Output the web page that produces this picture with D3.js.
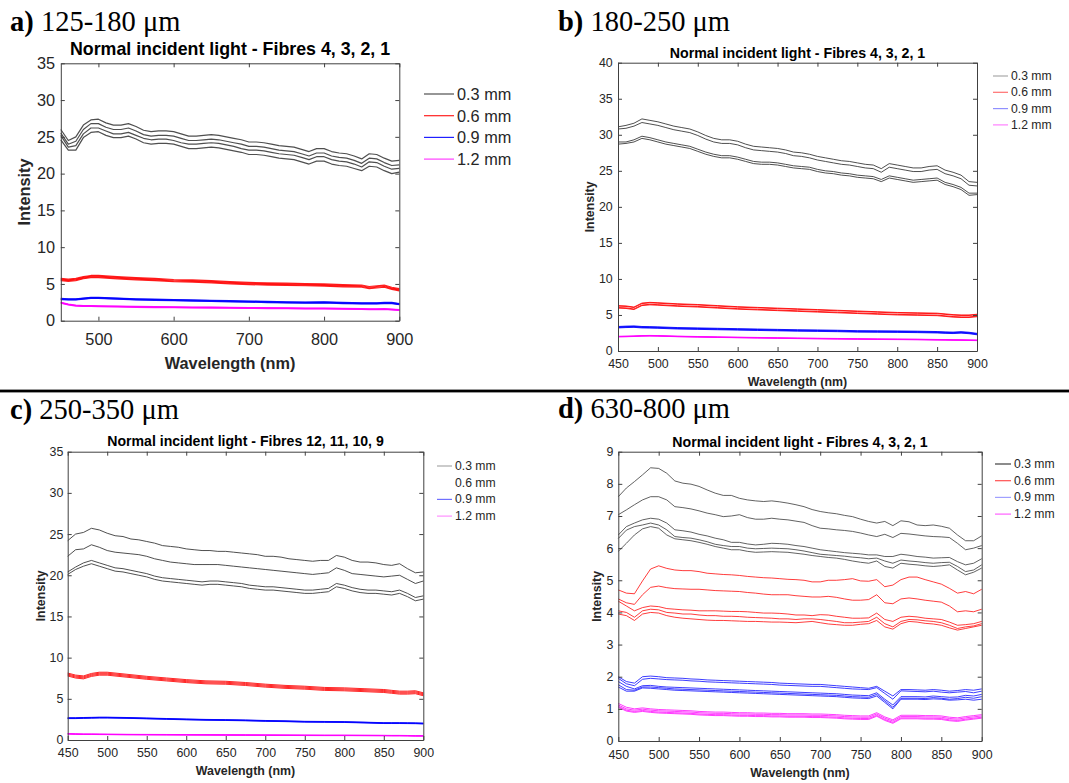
<!DOCTYPE html>
<html>
<head>
<meta charset="utf-8">
<script src="https://cdn.jsdelivr.net/npm/d3@7"></script>
<style>
  body { margin: 0; background: #fff; }
  svg { display: block; font-family: "Liberation Sans", Arial, sans-serif; }
</style>
</head>
<body>
<svg id="fig" width="1069" height="783"></svg>
<script>
// wavelength grids (nm)
const wlFine = [450,460,470,480,490,500,510,520,530,540,550,560,570,580,590,600,610,620,630,640,
  650,660,670,680,690,700,710,720,730,740,750,760,770,780,790,800,810,820,830,840,850,860,870,880,890,900];
const wlCoarse = [450,460,470,480,490,500,525,550,575,600,625,650,675,700,725,750,775,800,825,850,860,870,880,890,900];

const legendLabels = ["0.3 mm", "0.6 mm", "0.9 mm", "1.2 mm"];
const seriesColors = ["#303030", "#ff0000", "#0000ff", "#ff00ff"];

const xTicks50 = [450,500,550,600,650,700,750,800,850,900];
const xTicks100 = [500,600,700,800,900];
const yTicks35 = [0,5,10,15,20,25,30,35];
const yTicks40 = [0,5,10,15,20,25,30,35,40];
const yTicks9 = [0,1,2,3,4,5,6,7,8,9];

// ---- a) 125-180 um  (fine grid for 0.3 mm, coarse grid for others)
const a03 = [
  [26.0,24.5,25.0,26.6,27.3,27.4,26.9,26.6,26.6,26.8,26.4,25.9,25.7,25.8,25.8,25.7,25.4,25.1,25.1,25.2,
   25.3,25.2,25.0,24.8,24.6,24.3,24.3,24.2,24.0,23.8,23.7,23.6,23.3,23.0,23.4,23.4,23.0,22.8,22.7,22.4,22.0,22.7,22.6,22.1,21.7,21.8],
  [25.5,24.0,24.4,26.0,26.8,26.8,26.3,26.0,26.0,26.2,25.8,25.3,25.1,25.2,25.2,25.1,24.8,24.5,24.5,24.6,
   24.7,24.6,24.4,24.2,24.0,23.7,23.7,23.6,23.4,23.2,23.1,23.0,22.7,22.4,22.8,22.8,22.4,22.2,22.1,21.8,21.4,22.1,22.0,21.5,21.1,21.2],
  [25.2,23.6,23.8,25.4,26.2,26.2,25.8,25.4,25.4,25.6,25.2,24.8,24.6,24.7,24.7,24.5,24.2,24.0,24.0,24.1,
   24.2,24.1,23.9,23.7,23.4,23.2,23.2,23.1,22.9,22.7,22.6,22.5,22.2,21.9,22.3,22.3,21.9,21.7,21.6,21.3,20.9,21.6,21.5,21.0,20.6,20.7],
  [24.6,23.2,23.2,24.9,25.6,25.7,25.2,24.9,24.9,25.1,24.7,24.2,24.0,24.1,24.1,24.0,23.7,23.4,23.4,23.5,
   23.6,23.5,23.3,23.1,22.9,22.6,22.6,22.5,22.3,22.1,22.0,21.9,21.6,21.3,21.7,21.7,21.3,21.1,21.0,20.7,20.4,21.0,20.9,20.4,20.0,20.2]
];
const a06 = [
  [5.75,5.65,5.75,6.0,6.15,6.15,6.0,5.85,5.75,5.6,5.55,5.45,5.3,5.2,5.15,5.1,5.05,5.0,4.9,4.85,4.65,4.75,4.85,4.55,4.35],
  [5.65,5.55,5.65,5.9,6.05,6.05,5.9,5.75,5.65,5.5,5.45,5.35,5.2,5.1,5.05,5.0,4.95,4.9,4.8,4.75,4.55,4.65,4.75,4.45,4.25],
  [5.55,5.45,5.55,5.8,5.95,5.95,5.8,5.65,5.55,5.4,5.35,5.25,5.1,5.0,4.95,4.9,4.85,4.8,4.7,4.65,4.45,4.55,4.65,4.35,4.15],
  [5.45,5.35,5.45,5.7,5.85,5.85,5.7,5.55,5.45,5.3,5.25,5.15,5.0,4.9,4.85,4.8,4.75,4.7,4.6,4.55,4.35,4.45,4.55,4.25,4.05]
];
const a09 = [
  [3.03,2.98,2.98,3.08,3.18,3.18,3.08,2.98,2.93,2.88,2.83,2.78,2.73,2.68,2.63,2.58,2.53,2.58,2.48,2.43,2.43,2.43,2.48,2.48,2.33],
  [2.98,2.93,2.93,3.03,3.13,3.13,3.03,2.93,2.88,2.83,2.78,2.73,2.68,2.63,2.58,2.53,2.48,2.53,2.43,2.38,2.38,2.38,2.43,2.43,2.28],
  [2.92,2.87,2.87,2.97,3.07,3.07,2.97,2.87,2.82,2.77,2.72,2.67,2.62,2.57,2.52,2.47,2.42,2.47,2.37,2.32,2.32,2.32,2.37,2.37,2.22],
  [2.87,2.82,2.82,2.92,3.02,3.02,2.92,2.82,2.77,2.72,2.67,2.62,2.57,2.52,2.47,2.42,2.37,2.42,2.32,2.27,2.27,2.27,2.32,2.32,2.17]
];
const a12 = [
  [2.51,2.26,2.11,2.06,2.06,2.03,1.98,1.94,1.91,1.88,1.86,1.84,1.81,1.79,1.77,1.75,1.73,1.72,1.68,1.64,1.62,1.62,1.64,1.58,1.51],
  [2.47,2.22,2.07,2.02,2.02,1.99,1.94,1.9,1.87,1.84,1.82,1.8,1.77,1.75,1.73,1.71,1.69,1.68,1.64,1.6,1.58,1.58,1.6,1.54,1.47],
  [2.43,2.18,2.03,1.98,1.98,1.95,1.9,1.86,1.83,1.8,1.78,1.76,1.73,1.71,1.69,1.67,1.65,1.64,1.6,1.56,1.54,1.54,1.56,1.5,1.43],
  [2.39,2.14,1.99,1.94,1.94,1.91,1.86,1.82,1.79,1.76,1.74,1.72,1.69,1.67,1.65,1.63,1.61,1.6,1.56,1.52,1.5,1.5,1.52,1.46,1.39]
];

// ---- b) 180-250 um
const b03 = [
  [31.1,31.3,31.6,32.2,32.0,31.8,31.5,31.2,31.0,30.8,30.4,29.9,29.5,29.3,29.3,29.1,28.7,28.4,28.3,28.2,
   28.1,27.9,27.6,27.5,27.3,27.0,26.8,26.6,26.4,26.3,26.1,25.9,25.8,25.3,26.0,25.8,25.6,25.4,25.4,25.6,25.7,25.1,24.8,24.4,23.5,23.4],
  [30.8,30.9,31.2,31.7,31.5,31.3,31.0,30.7,30.5,30.3,29.9,29.4,29.0,28.8,28.8,28.6,28.2,27.9,27.8,27.7,
   27.6,27.4,27.1,27.0,26.8,26.5,26.3,26.1,25.9,25.8,25.6,25.4,25.3,24.8,25.5,25.3,25.1,24.9,24.9,25.1,25.2,24.6,24.3,23.9,23.0,22.9],
  [29.0,29.0,29.3,29.8,29.6,29.3,29.0,28.8,28.6,28.4,28.0,27.6,27.3,27.1,27.1,26.9,26.6,26.3,26.2,26.2,
   26.1,25.9,25.7,25.6,25.5,25.2,25.0,24.9,24.7,24.6,24.4,24.3,24.2,23.8,24.3,24.1,23.9,23.7,23.8,23.9,24.0,23.4,23.1,22.7,21.9,21.9],
  [28.7,28.8,29.0,29.5,29.3,29.0,28.7,28.5,28.3,28.1,27.7,27.3,27.0,26.8,26.8,26.6,26.3,26.0,25.9,25.9,
   25.8,25.6,25.4,25.3,25.2,24.9,24.7,24.6,24.4,24.3,24.1,24.0,23.9,23.5,24.0,23.8,23.6,23.4,23.5,23.6,23.7,23.1,22.8,22.4,21.6,21.7]
];
const b06 = [
  [6.3,6.25,6.1,6.65,6.75,6.7,6.55,6.45,6.3,6.15,6.05,5.95,5.85,5.75,5.65,5.55,5.45,5.35,5.3,5.25,5.15,5.05,5.0,5.0,5.1],
  [6.23,6.18,6.03,6.58,6.68,6.63,6.48,6.38,6.23,6.08,5.98,5.88,5.78,5.68,5.58,5.48,5.38,5.28,5.23,5.18,5.08,4.98,4.93,4.93,5.03],
  [6.03,5.98,5.83,6.38,6.48,6.43,6.28,6.18,6.03,5.88,5.78,5.68,5.58,5.48,5.38,5.28,5.18,5.08,5.03,4.98,4.88,4.78,4.73,4.73,4.83],
  [5.95,5.9,5.75,6.3,6.4,6.35,6.2,6.1,5.95,5.8,5.7,5.6,5.5,5.4,5.3,5.2,5.1,5.0,4.95,4.9,4.8,4.7,4.65,4.65,4.75]
];
const b09 = [
  [3.4,3.45,3.48,3.4,3.38,3.35,3.25,3.2,3.15,3.1,3.05,3.0,2.95,2.92,2.88,2.82,2.8,2.78,2.75,2.7,2.65,2.62,2.68,2.6,2.45],
  [3.33,3.38,3.41,3.33,3.31,3.28,3.18,3.13,3.08,3.03,2.98,2.93,2.88,2.85,2.81,2.75,2.73,2.71,2.68,2.63,2.58,2.55,2.61,2.53,2.38],
  [3.27,3.32,3.35,3.27,3.25,3.22,3.12,3.07,3.02,2.97,2.92,2.87,2.82,2.79,2.75,2.69,2.67,2.65,2.62,2.57,2.52,2.49,2.55,2.47,2.32],
  [3.2,3.25,3.28,3.2,3.18,3.15,3.05,3.0,2.95,2.9,2.85,2.8,2.75,2.72,2.68,2.62,2.6,2.58,2.55,2.5,2.45,2.42,2.48,2.4,2.25]
];
const b12 = [
  [2.04,2.06,2.09,2.14,2.16,2.14,2.06,2.01,1.96,1.92,1.88,1.84,1.8,1.77,1.74,1.71,1.68,1.66,1.64,1.6,1.59,1.57,1.56,1.54,1.52],
  [2.01,2.03,2.06,2.11,2.13,2.11,2.03,1.98,1.93,1.89,1.85,1.81,1.77,1.74,1.71,1.68,1.65,1.63,1.61,1.57,1.56,1.54,1.53,1.51,1.49],
  [1.98,2.0,2.03,2.08,2.1,2.08,2.0,1.95,1.9,1.86,1.82,1.78,1.74,1.71,1.68,1.65,1.62,1.6,1.58,1.54,1.53,1.51,1.5,1.48,1.46],
  [1.96,1.98,2.01,2.06,2.08,2.06,1.98,1.93,1.88,1.84,1.8,1.76,1.72,1.69,1.66,1.63,1.6,1.58,1.56,1.52,1.51,1.49,1.48,1.46,1.44]
];

// ---- c) 250-350 um
const c03 = [
  [24.2,25.0,25.2,25.7,25.5,25.1,24.8,24.7,24.4,24.3,24.1,23.9,23.6,23.5,23.4,23.2,23.1,23.0,23.0,22.9,
   22.9,22.8,22.7,22.6,22.5,22.3,22.3,22.2,22.0,21.9,21.8,21.7,21.8,21.8,22.4,22.2,21.8,21.6,21.6,21.5,21.3,21.2,21.4,20.8,20.3,20.4],
  [22.3,23.1,23.2,23.7,23.4,23.0,22.8,22.7,22.6,22.5,22.3,22.0,21.8,21.6,21.5,21.4,21.3,21.3,21.3,21.3,
   21.2,21.1,21.0,20.9,20.8,20.7,20.6,20.5,20.4,20.3,20.2,20.1,20.2,20.3,20.9,20.6,20.2,20.1,20.0,19.9,19.8,19.9,20.0,19.5,19.0,19.3],
  [20.4,21.0,21.5,21.8,21.5,21.2,20.9,20.8,20.6,20.4,20.2,19.9,19.7,19.6,19.5,19.4,19.3,19.2,19.3,19.3,
   19.2,19.1,19.0,18.8,18.7,18.6,18.6,18.5,18.4,18.3,18.2,18.2,18.3,18.4,19.0,18.8,18.5,18.3,18.2,18.2,18.1,18.0,18.2,17.8,17.3,17.5],
  [20.1,20.7,21.1,21.4,21.1,20.8,20.5,20.4,20.2,20.0,19.8,19.5,19.3,19.2,19.1,19.0,18.9,18.8,18.9,18.9,
   18.8,18.7,18.6,18.4,18.3,18.2,18.2,18.1,18.0,17.9,17.8,17.8,17.9,18.0,18.6,18.4,18.1,17.9,17.8,17.8,17.7,17.6,17.8,17.4,16.9,17.1]
];
const c06 = [
  [8.13,7.88,7.78,8.08,8.23,8.23,7.98,7.73,7.53,7.33,7.18,7.13,6.98,6.78,6.63,6.53,6.38,6.33,6.23,6.13,6.03,5.93,5.93,5.98,5.73],
  [8.01,7.76,7.66,7.96,8.11,8.11,7.86,7.61,7.41,7.21,7.06,7.01,6.86,6.66,6.51,6.41,6.26,6.21,6.11,6.01,5.91,5.81,5.81,5.86,5.61],
  [7.89,7.64,7.54,7.84,7.99,7.99,7.74,7.49,7.29,7.09,6.94,6.89,6.74,6.54,6.39,6.29,6.14,6.09,5.99,5.89,5.79,5.69,5.69,5.74,5.49],
  [7.77,7.52,7.42,7.72,7.87,7.87,7.62,7.37,7.17,6.97,6.82,6.77,6.62,6.42,6.27,6.17,6.02,5.97,5.87,5.77,5.67,5.57,5.57,5.62,5.37]
];
const c09 = [
  [2.7,2.7,2.73,2.75,2.77,2.77,2.73,2.67,2.61,2.55,2.5,2.47,2.43,2.37,2.33,2.27,2.25,2.23,2.17,2.1,2.1,2.1,2.09,2.08,2.05],
  [2.67,2.67,2.7,2.72,2.74,2.74,2.7,2.64,2.58,2.52,2.47,2.44,2.4,2.34,2.3,2.24,2.22,2.2,2.14,2.07,2.07,2.07,2.06,2.05,2.02],
  [2.63,2.63,2.66,2.68,2.7,2.7,2.66,2.6,2.54,2.48,2.43,2.4,2.36,2.3,2.26,2.2,2.18,2.16,2.1,2.03,2.03,2.03,2.02,2.01,1.98],
  [2.6,2.6,2.63,2.65,2.67,2.67,2.63,2.57,2.51,2.45,2.4,2.37,2.33,2.27,2.23,2.17,2.15,2.13,2.07,2.0,2.0,2.0,1.99,1.98,1.95]
];
const c12 = [
  [0.78,0.75,0.73,0.73,0.72,0.71,0.69,0.68,0.67,0.66,0.65,0.64,0.63,0.62,0.61,0.6,0.59,0.59,0.58,0.57,0.56,0.56,0.55,0.53,0.53],
  [0.76,0.73,0.71,0.71,0.7,0.69,0.67,0.66,0.65,0.64,0.63,0.62,0.61,0.6,0.59,0.58,0.57,0.57,0.56,0.55,0.54,0.54,0.53,0.51,0.51],
  [0.74,0.71,0.69,0.69,0.68,0.67,0.65,0.64,0.63,0.62,0.61,0.6,0.59,0.58,0.57,0.56,0.55,0.55,0.54,0.53,0.52,0.52,0.51,0.49,0.49],
  [0.72,0.69,0.67,0.67,0.66,0.65,0.63,0.62,0.61,0.6,0.59,0.58,0.57,0.56,0.55,0.54,0.53,0.53,0.52,0.51,0.5,0.5,0.49,0.47,0.47]
];

// ---- d) 630-800 um  (all on the fine grid)
const d03 = [
  [7.6,7.87,8.07,8.28,8.5,8.48,8.33,8.09,8.02,7.99,7.92,7.81,7.71,7.64,7.64,7.55,7.5,7.47,7.45,7.47,
   7.44,7.4,7.35,7.29,7.2,7.14,7.1,7.07,7.02,6.98,6.9,6.83,6.78,6.83,6.7,6.85,6.82,6.72,6.7,6.72,6.68,6.62,6.41,6.23,6.23,6.38],
  [7.04,7.19,7.35,7.5,7.6,7.6,7.5,7.29,7.26,7.22,7.16,7.09,7.04,6.98,7.0,7.04,6.95,6.9,6.9,6.93,
   6.9,6.88,6.84,6.8,6.7,6.62,6.6,6.57,6.55,6.52,6.47,6.41,6.36,6.43,6.33,6.46,6.44,6.41,6.38,6.36,6.35,6.33,6.15,5.95,6.0,6.08],
  [6.41,6.67,6.78,6.88,6.93,6.9,6.78,6.57,6.54,6.5,6.43,6.38,6.31,6.26,6.18,6.18,6.13,6.1,6.12,6.15,
   6.14,6.12,6.08,6.05,6.0,5.95,5.92,5.89,5.86,5.84,5.82,5.79,5.79,5.74,5.74,5.81,5.78,5.74,5.72,5.69,5.7,5.71,5.58,5.48,5.53,5.67],
  [6.3,6.56,6.67,6.72,6.78,6.72,6.57,6.36,6.33,6.31,6.26,6.2,6.12,6.08,6.05,6.05,6.0,5.98,5.99,6.0,
   5.99,5.98,5.95,5.91,5.86,5.81,5.79,5.77,5.75,5.72,5.7,5.67,5.69,5.6,5.53,5.63,5.6,5.58,5.55,5.53,5.55,5.56,5.43,5.27,5.32,5.48],
  [5.9,6.15,6.41,6.6,6.67,6.62,6.41,6.29,6.26,6.23,6.18,6.12,6.05,6.0,5.95,5.95,5.9,5.87,5.88,5.89,
   5.88,5.87,5.84,5.81,5.77,5.74,5.71,5.69,5.65,5.6,5.56,5.53,5.6,5.43,5.38,5.53,5.5,5.48,5.45,5.43,5.45,5.48,5.32,5.17,5.25,5.38]
];
const d06 = [
  [4.7,4.6,4.58,4.98,5.35,5.45,5.37,5.32,5.3,5.3,5.27,5.22,5.2,5.18,5.17,5.15,5.12,5.1,5.08,5.07,
   5.05,5.03,5.02,5.0,4.95,4.95,5.0,5.0,5.02,5.05,4.98,4.97,5.02,4.8,4.85,5.02,5.1,5.1,5.02,4.95,4.88,4.75,4.6,4.65,4.58,4.72],
  [4.42,4.3,4.25,4.55,4.78,4.82,4.77,4.74,4.73,4.72,4.72,4.7,4.68,4.67,4.66,4.65,4.62,4.6,4.57,4.55,
   4.55,4.55,4.52,4.5,4.48,4.48,4.5,4.47,4.42,4.38,4.38,4.4,4.55,4.3,4.27,4.42,4.45,4.42,4.38,4.35,4.32,4.2,4.02,4.05,4.02,4.1],
  [4.35,4.2,4.05,4.15,4.2,4.18,4.12,4.1,4.08,4.07,4.05,4.05,4.05,4.04,4.03,4.03,4.02,4.0,3.98,3.98,
   3.97,3.95,3.92,3.92,3.9,3.93,3.92,3.88,3.85,3.82,3.82,3.83,3.98,3.78,3.72,3.85,3.88,3.86,3.82,3.8,3.78,3.7,3.6,3.62,3.65,3.72],
  [4.05,4.0,3.85,4.05,4.1,4.08,4.0,3.98,3.95,3.95,3.92,3.9,3.9,3.88,3.88,3.87,3.85,3.84,3.83,3.82,
   3.8,3.8,3.78,3.8,3.8,3.78,3.75,3.72,3.68,3.68,3.7,3.72,3.85,3.65,3.55,3.72,3.78,3.77,3.74,3.72,3.68,3.6,3.5,3.55,3.58,3.65],
  [3.95,3.9,3.75,3.95,4.0,3.98,3.9,3.85,3.82,3.8,3.78,3.76,3.75,3.75,3.74,3.73,3.72,3.72,3.71,3.7,
   3.7,3.69,3.68,3.7,3.72,3.68,3.64,3.62,3.6,3.6,3.63,3.65,3.75,3.55,3.48,3.65,3.72,3.7,3.66,3.64,3.6,3.52,3.45,3.5,3.55,3.6]
];
const d09 = [
  [2.0,1.85,1.8,2.0,2.02,2.0,1.97,1.96,1.95,1.93,1.92,1.9,1.89,1.88,1.87,1.86,1.85,1.84,1.83,1.82,
   1.8,1.79,1.78,1.77,1.76,1.76,1.74,1.72,1.7,1.68,1.66,1.64,1.7,1.55,1.4,1.6,1.6,1.59,1.58,1.6,1.58,1.55,1.57,1.6,1.58,1.62],
  [1.95,1.78,1.72,1.92,1.95,1.93,1.91,1.9,1.89,1.87,1.86,1.84,1.83,1.82,1.81,1.8,1.79,1.78,1.77,1.76,
   1.74,1.73,1.72,1.71,1.7,1.7,1.68,1.66,1.64,1.62,1.61,1.6,1.66,1.48,1.3,1.56,1.55,1.54,1.53,1.55,1.52,1.5,1.52,1.54,1.5,1.55],
  [1.85,1.7,1.62,1.72,1.73,1.7,1.68,1.67,1.66,1.65,1.64,1.63,1.62,1.61,1.6,1.59,1.58,1.57,1.56,1.55,
   1.54,1.53,1.52,1.51,1.5,1.49,1.48,1.47,1.45,1.43,1.42,1.41,1.5,1.3,1.12,1.38,1.38,1.38,1.37,1.4,1.38,1.36,1.37,1.42,1.4,1.45],
  [1.75,1.6,1.58,1.68,1.68,1.66,1.64,1.62,1.61,1.6,1.59,1.58,1.57,1.56,1.55,1.54,1.53,1.52,1.51,1.5,
   1.49,1.48,1.47,1.46,1.45,1.44,1.43,1.42,1.4,1.38,1.37,1.36,1.45,1.25,1.05,1.33,1.33,1.33,1.32,1.35,1.33,1.3,1.32,1.36,1.33,1.38],
  [1.68,1.55,1.55,1.65,1.64,1.62,1.6,1.58,1.57,1.56,1.55,1.54,1.53,1.52,1.51,1.5,1.49,1.48,1.47,1.46,
   1.45,1.44,1.43,1.42,1.41,1.4,1.39,1.38,1.36,1.34,1.33,1.32,1.4,1.2,1.0,1.3,1.3,1.3,1.29,1.31,1.3,1.27,1.28,1.3,1.27,1.3]
];
const d12 = [
  [1.17,1.05,1.0,1.03,1.0,0.98,0.97,0.96,0.95,0.94,0.92,0.91,0.9,0.9,0.89,0.88,0.88,0.87,0.87,0.86,
   0.86,0.85,0.85,0.85,0.84,0.84,0.83,0.82,0.8,0.79,0.78,0.78,0.88,0.75,0.66,0.8,0.8,0.8,0.79,0.79,0.78,0.74,0.72,0.76,0.79,0.82],
  [1.12,1.0,0.96,0.99,0.96,0.94,0.93,0.92,0.91,0.9,0.88,0.87,0.86,0.86,0.85,0.84,0.84,0.83,0.83,0.82,
   0.82,0.81,0.81,0.81,0.8,0.8,0.79,0.78,0.76,0.75,0.74,0.74,0.84,0.71,0.62,0.76,0.76,0.76,0.75,0.75,0.74,0.7,0.68,0.72,0.75,0.78],
  [1.08,0.96,0.92,0.95,0.92,0.9,0.89,0.88,0.87,0.86,0.84,0.83,0.82,0.82,0.81,0.8,0.8,0.79,0.79,0.78,
   0.78,0.77,0.77,0.77,0.76,0.76,0.75,0.74,0.72,0.71,0.7,0.7,0.8,0.67,0.58,0.72,0.72,0.72,0.71,0.71,0.7,0.66,0.64,0.68,0.71,0.74],
  [1.05,0.93,0.89,0.92,0.89,0.87,0.86,0.85,0.84,0.83,0.81,0.8,0.79,0.79,0.78,0.77,0.77,0.76,0.76,0.75,
   0.75,0.74,0.74,0.74,0.73,0.73,0.72,0.71,0.69,0.68,0.67,0.67,0.77,0.64,0.55,0.69,0.69,0.69,0.68,0.68,0.67,0.63,0.61,0.65,0.68,0.71]
];

// ---- panel layout
const panels = [
  { tag: "a)", size: " 125-180 \u03bcm", tagX: 10, tagY: 31,
    title: "Normal incident light - Fibres 4, 3, 2, 1", titleY: 49, titleFont: 17.8,
    box: { x0: 60.8, x1: 399.3, y0: 63.3, y1: 320.7 }, yMax: 35, yTicks: yTicks35, xTicks: xTicks100,
    font: 16.3, xPad: 12.4, yPad: 5.8, xLabelY: 362.7, yLabelX: 24, lw: 1.2,
    legend: { x: 424, len: 30, y: 94, dy: 21.7, font: 16.3, colors: ["#505050", "#ff2020", "#2020ff", "#ff40ff"] },
    groups: [ { wl: wlFine, lines: a03 }, { wl: wlCoarse, lines: a06 }, { wl: wlCoarse, lines: a09 }, { wl: wlCoarse, lines: a12 } ] },
  { tag: "b)", size: " 180-250 \u03bcm", tagX: 558, tagY: 31,
    title: "Normal incident light - Fibres 4, 3, 2, 1", titleY: 53.3, titleFont: 14.2,
    box: { x0: 618, x1: 977, y0: 62.7, y1: 351 }, yMax: 40, yTicks: yTicks40, xTicks: xTicks50,
    font: 12.4, xPad: 8, yPad: 5.3, xLabelY: 381.7, yLabelX: 590, lw: 1,
    legend: { x: 993, len: 15, y: 76, dy: 16.3, font: 12.2, colors: ["#a8a8a8", "#ff7070", "#9090ff", "#ff80ff"] },
    groups: [ { wl: wlFine, lines: b03 }, { wl: wlCoarse, lines: b06 }, { wl: wlCoarse, lines: b09 }, { wl: wlCoarse, lines: b12 } ] },
  { tag: "c)", size: " 250-350 \u03bcm", tagX: 10, tagY: 419,
    title: "Normal incident light - Fibres 12, 11, 10, 9", titleY: 441, titleFont: 14.1,
    box: { x0: 67.7, x1: 423.3, y0: 451.7, y1: 740 }, yMax: 35, yTicks: yTicks35, xTicks: xTicks50,
    font: 12.4, xPad: 8.3, yPad: 4.4, xLabelY: 771, yLabelX: 40.7, lw: 1,
    legend: { x: 437, len: 15, y: 466, dy: 16.7, font: 12.2, colors: ["#a8a8a8", "none", "#7070ff", "#ff90ff"] },
    groups: [ { wl: wlFine, lines: c03 }, { wl: wlCoarse, lines: c06 }, { wl: wlCoarse, lines: c09 }, { wl: wlCoarse, lines: c12 } ] },
  { tag: "d)", size: " 630-800 \u03bcm", tagX: 558, tagY: 418,
    title: "Normal incident light - Fibres 4, 3, 2, 1", titleY: 441.7, titleFont: 14.2,
    box: { x0: 618.3, x1: 981.7, y0: 451.7, y1: 741 }, yMax: 9, yTicks: yTicks9, xTicks: xTicks50,
    font: 12.4, xPad: 9.4, yPad: 5, xLabelY: 773, yLabelX: 597.3, lw: 0.9,
    legend: { x: 995, len: 16, y: 464, dy: 16.7, font: 12.2, colors: ["#404040", "#ff5050", "#a0a0ff", "#ff60ff"] },
    groups: [ { wl: wlFine, lines: d03 }, { wl: wlFine, lines: d06 }, { wl: wlFine, lines: d09 }, { wl: wlFine, lines: d12 } ] }
];

const svg = d3.select("#fig");
svg.append("rect").attr("width", 1069).attr("height", 783).attr("fill", "#fff");
// separator between the two rows of panels
svg.append("rect").attr("x", 0).attr("y", 389.6).attr("width", 1069).attr("height", 2.8).attr("fill", "#000");

panels.forEach(drawPanel);

function drawPanel(p) {
  const g = svg.append("g");
  const b = p.box;
  const x = d3.scaleLinear().domain([450, 900]).range([b.x0, b.x1]);
  const y = d3.scaleLinear().domain([0, p.yMax]).range([b.y1, b.y0]);
  const line = d3.line().x(d => x(d[0])).y(d => y(d[1]));

  // spectra
  p.groups.forEach((grp, gi) => {
    grp.lines.forEach(vals => {
      g.append("path")
        .datum(vals.map((v, i) => [grp.wl[i], v]))
        .attr("d", line)
        .attr("fill", "none")
        .attr("stroke", seriesColors[gi])
        .attr("stroke-width", p.lw)
        .attr("stroke-opacity", 0.85)
        .attr("stroke-linejoin", "round");
    });
  });

  const styleAxis = sel => {
    sel.attr("font-size", null).attr("font-family", null);
    sel.select(".domain").attr("stroke", "#404040").attr("stroke-width", 1);
    sel.selectAll(".tick line").attr("stroke", "#404040");
    sel.selectAll(".tick text").attr("fill", "#262626").style("font-size", p.font + "px");
  };

  g.append("g").attr("transform", `translate(0,${b.y1})`)
    .call(d3.axisBottom(x).tickValues(p.xTicks).tickSize(-4).tickSizeOuter(0).tickPadding(p.xPad))
    .call(styleAxis);
  g.append("g").attr("transform", `translate(0,${b.y0})`)
    .call(d3.axisTop(x).tickValues(p.xTicks).tickSize(-4).tickSizeOuter(0).tickFormat(""))
    .call(styleAxis);
  g.append("g").attr("transform", `translate(${b.x0},0)`)
    .call(d3.axisLeft(y).tickValues(p.yTicks).tickSize(-4).tickSizeOuter(0).tickPadding(p.yPad))
    .call(styleAxis);
  g.append("g").attr("transform", `translate(${b.x1},0)`)
    .call(d3.axisRight(y).tickValues(p.yTicks).tickSize(-4).tickSizeOuter(0).tickFormat(""))
    .call(styleAxis);

  // title and axis labels
  const cx = (b.x0 + b.x1) / 2, cy = (b.y0 + b.y1) / 2;
  g.append("text").attr("x", cx).attr("y", p.titleY)
    .attr("text-anchor", "middle").attr("dominant-baseline", "central")
    .attr("font-weight", "bold").attr("font-size", p.titleFont).attr("fill", "#000")
    .text(p.title);
  g.append("text").attr("x", cx).attr("y", p.xLabelY)
    .attr("text-anchor", "middle").attr("dominant-baseline", "central")
    .attr("font-weight", "bold").attr("font-size", p.font).attr("fill", "#262626")
    .text("Wavelength (nm)");
  g.append("text").attr("transform", `translate(${p.yLabelX},${cy}) rotate(-90)`)
    .attr("text-anchor", "middle").attr("dominant-baseline", "central")
    .attr("font-weight", "bold").attr("font-size", p.font).attr("fill", "#262626")
    .text("Intensity");

  // legend
  const lg = p.legend;
  legendLabels.forEach((lab, i) => {
    const ly = lg.y + i * lg.dy;
    g.append("line").attr("x1", lg.x).attr("x2", lg.x + lg.len).attr("y1", ly).attr("y2", ly)
      .attr("stroke", lg.colors[i]).attr("stroke-width", 1.2);
    g.append("text").attr("x", lg.x + lg.len + 3).attr("y", ly)
      .attr("dominant-baseline", "central").attr("font-size", lg.font).attr("fill", "#262626")
      .text(lab);
  });

  // panel tag, e.g. "a) 125-180 um"
  const t = svg.append("text").attr("x", p.tagX).attr("y", p.tagY)
    .attr("font-family", "'Liberation Serif', 'Times New Roman', serif")
    .attr("font-size", 28.5).attr("fill", "#000");
  t.append("tspan").attr("font-weight", "bold").text(p.tag);
  t.append("tspan").text(p.size);
}
</script>
</body>
</html>
